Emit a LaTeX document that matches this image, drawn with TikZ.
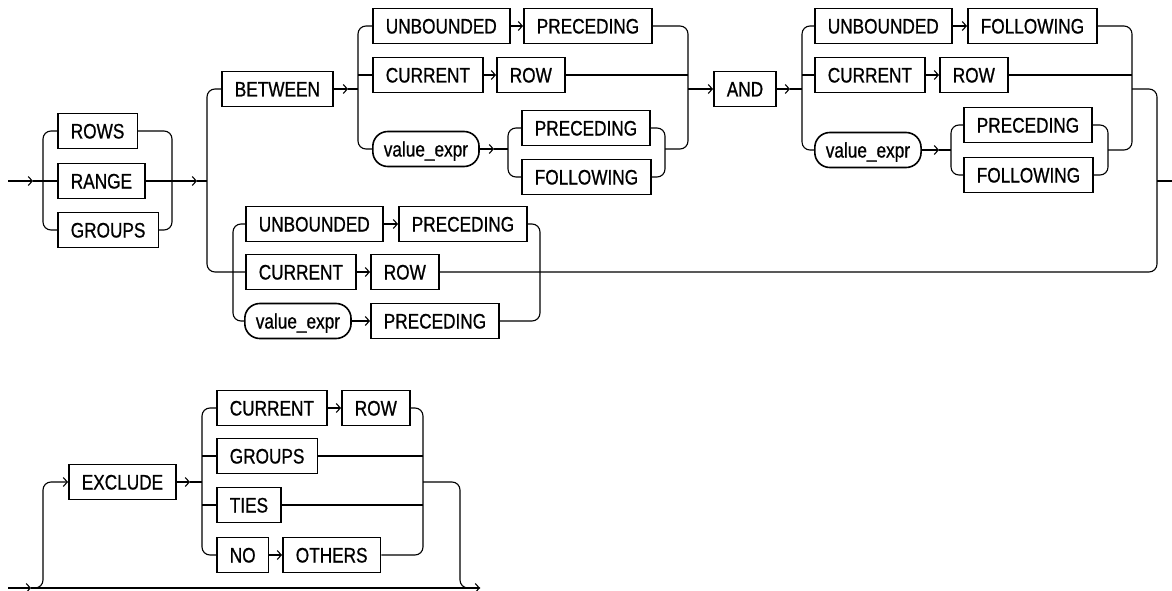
\documentclass[tikz,border=0pt]{standalone}
\usepackage{fontspec}
\setmainfont{Liberation Sans}[FakeStretch=0.82, FakeBold=0.8]
\usepackage{tikz}
\usetikzlibrary{arrows.meta}
\tikzset{
  kw/.style={draw, line width=1.6pt, anchor=west, minimum height=35pt, inner xsep=13pt, inner ysep=0pt,
    text height=15pt, text depth=0pt, font=\fontsize{21}{25}\selectfont},
  var/.style={kw, rounded corners=15pt, inner xsep=11pt},
  arr/.style={-{Straight Barb[length=4pt,width=9pt]}},
}

\begin{document}
\begin{tikzpicture}[x=1pt, y=-1pt, line width=1.1pt]
            \useasboundingbox (0,0) rectangle (1172,591);
            % ROWS / RANGE / GROUPS
            \node[kw] (rows) at (57,131) {ROWS};
            \node[kw] (range) at (57,181) {RANGE};
            \node[kw] (groupsA) at (57,230) {GROUPS};
            \coordinate (inA) at (8,181);
            \coordinate (tipA) at (33,181);
            \coordinate (railA) at (43,181);
            \coordinate (railAr) at (172,181);
            \coordinate (tipAr) at (197,181);
            \coordinate (railB) at (207,181);
            \draw[arr] (inA) -- (tipA);
            \draw (tipA) -- (range);
            \draw[rounded corners=8pt] (rows.west) -| (railA) |- (groupsA.west);
            \draw[rounded corners=8pt] (rows.east) -| (railAr) |- (groupsA.east);
            \draw[arr] (range) -- (tipAr);
            \draw (tipAr) -- (railB);
            % single bound
            \node[kw] (ubE) at (245,224) {UNBOUNDED};
            \node[kw] (precE) at (398,224) {PRECEDING};
            \node[kw] (curE) at (245,272) {CURRENT};
            \node[kw] (rowE) at (370,272) {ROW};
            \node[var] (exprE) at (244,321) {value\_expr};
            \node[kw] (precF) at (370,321) {PRECEDING};
            \coordinate (railE) at (233,272);
            \coordinate (railEr) at (540,272);
            \draw[rounded corners=8pt] (ubE.west) -| (railE) |- (exprE.west);
            \draw[rounded corners=8pt] (precE.east) -| (railEr) |- (precF.east);
            \draw[arr] (ubE) -- (precE);
            \draw[arr] (curE) -- (rowE);
            \draw[arr] (exprE) -- (precF);
            % BETWEEN ... AND ...
            \node[kw] (between) at (221,89) {BETWEEN};
            \node[kw] (ubA) at (372,26) {UNBOUNDED};
            \node[kw] (precA) at (523,26) {PRECEDING};
            \node[kw] (curA) at (372,75) {CURRENT};
            \node[kw] (rowA) at (496,75) {ROW};
            \node[var] (exprA) at (372,149) {value\_expr};
            \node[kw] (precB) at (521,128) {PRECEDING};
            \node[kw] (follB) at (521,177) {FOLLOWING};
            \node[kw] (kand) at (713,89) {AND};
            \coordinate (tipB) at (348,89);
            \coordinate (railC) at (358,89);
            \coordinate (tipC) at (494,149);
            \coordinate (railD) at (508,149);
            \coordinate (railDr) at (665,149);
            \coordinate (railCr) at (688,89);
            \draw[rounded corners=8pt] (between.west) -| (railB) |- (curE.west);
            \draw[arr] (between) -- (tipB);
            \draw (tipB) -- (railC);
            \draw[rounded corners=8pt] (ubA.west) -| (railC) |- (exprA.west);
            \draw (curA.west -| railC) -- (curA);
            \draw[arr] (ubA) -- (precA);
            \draw[arr] (curA) -- (rowA);
            \draw[arr] (exprA) -- (tipC);
            \draw (tipC) -- (railD);
            \draw[rounded corners=8pt] (precB.west) -| (railD) |- (follB.west);
            \draw[rounded corners=8pt] (precB.east) -| (railDr) |- (follB.east);
            \draw[rounded corners=8pt] (precA.east) -| (railCr) |- (railDr);
            \draw (rowA) -- (rowA.east -| railCr);
            \draw[arr] (railCr) -- (kand);
            \node[kw] (ubC) at (814,26) {UNBOUNDED};
            \node[kw] (follC) at (967,26) {FOLLOWING};
            \node[kw] (curC) at (814,75) {CURRENT};
            \node[kw] (rowC) at (939,75) {ROW};
            \node[var] (exprC) at (814,150) {value\_expr};
            \node[kw] (precD) at (963,125) {PRECEDING};
            \node[kw] (follD) at (963,175) {FOLLOWING};
            \coordinate (tipK) at (790,89);
            \coordinate (railF) at (802,89);
            \coordinate (tipF) at (939,150);
            \coordinate (railG) at (951,150);
            \coordinate (railGr) at (1108,150);
            \coordinate (railFr) at (1132,89);
            \coordinate (railH) at (1157,181);
            \coordinate (outA) at (1172,181);
            \draw[arr] (kand) -- (tipK);
            \draw (tipK) -- (railF);
            \draw[rounded corners=8pt] (ubC.west) -| (railF) |- (exprC.west);
            \draw (curC.west -| railF) -- (curC);
            \draw[arr] (ubC) -- (follC);
            \draw[arr] (curC) -- (rowC);
            \draw[arr] (exprC) -- (tipF);
            \draw (tipF) -- (railG);
            \draw[rounded corners=8pt] (precD.west) -| (railG) |- (follD.west);
            \draw[rounded corners=8pt] (precD.east) -| (railGr) |- (follD.east);
            \draw[rounded corners=8pt] (follC.east) -| (railFr) |- (railGr);
            \draw (rowC) -- (rowC.east -| railFr);
            \draw[rounded corners=8pt] (railFr) -| (railH) |- (rowE.east);
            \draw (railH) -- (outA);
            % EXCLUDE
            \node[kw] (exclude) at (68,482) {EXCLUDE};
            \node[kw] (curG) at (216,408) {CURRENT};
            \node[kw] (rowG) at (341,408) {ROW};
            \node[kw] (groupsG) at (216,456) {GROUPS};
            \node[kw] (ties) at (216,505) {TIES};
            \node[kw] (no) at (216,555) {NO};
            \node[kw] (others) at (282,555) {OTHERS};
            \coordinate (inB) at (8,588);
            \coordinate (tipG) at (31,588);
            \coordinate (railL) at (43,482);
            \coordinate (outB) at (480,588);
            \coordinate (tipX) at (190,482);
            \coordinate (railM) at (202,482);
            \coordinate (railN) at (423,482);
            \coordinate (railO) at (460,588);
            \draw[arr] (inB) -- (tipG);
            \draw[arr] (tipG) -- (outB);
            \draw[arr, rounded corners=8pt] (tipG) -| (railL) -- (exclude);
            \draw[arr] (exclude) -- (tipX);
            \draw (tipX) -- (railM);
            \draw[rounded corners=8pt] (curG.west) -| (railM) |- (no.west);
            \draw (groupsG.west -| railM) -- (groupsG);
            \draw (ties.west -| railM) -- (ties);
            \draw[arr] (curG) -- (rowG);
            \draw[arr] (no) -- (others);
            \draw[rounded corners=8pt] (rowG.east) -| (railN) |- (others.east);
            \draw (groupsG) -- (groupsG.east -| railN);
            \draw (ties) -- (ties.east -| railN);
            \draw[rounded corners=8pt] (railN) -| (railO) -- (outB);
        \end{tikzpicture}
\end{document}
